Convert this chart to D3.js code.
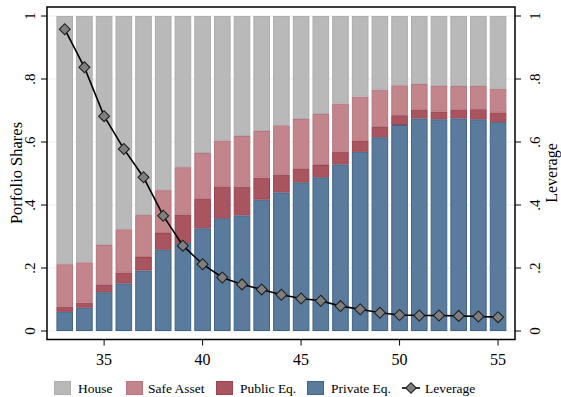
<!DOCTYPE html>
<html><head><meta charset="utf-8">
<script src="https://cdn.jsdelivr.net/npm/d3@7/dist/d3.min.js"></script>
<style>
body{margin:0;background:#fff;}
svg{display:block;font-family:"Liberation Serif","Times New Roman",serif;}
</style></head>
<body><svg id="c" width="561" height="397"></svg>
<script>
const ages = [33,34,35,36,37,38,39,40,41,42,43,44,45,46,47,48,49,50,51,52,53,54,55];
// cumulative tops
const privateEq = [0.061,0.074,0.123,0.151,0.192,0.258,0.280,0.326,0.358,0.367,0.417,0.440,0.472,0.488,0.529,0.569,0.615,0.654,0.675,0.672,0.675,0.672,0.663];
const publicTop = [0.077,0.090,0.148,0.186,0.235,0.311,0.370,0.421,0.459,0.458,0.487,0.497,0.514,0.527,0.569,0.605,0.648,0.685,0.702,0.697,0.702,0.704,0.694];
const safeTop   = [0.212,0.218,0.273,0.323,0.368,0.447,0.520,0.565,0.605,0.619,0.635,0.653,0.673,0.689,0.722,0.744,0.766,0.780,0.784,0.778,0.778,0.778,0.769];
const leverage  = [0.958,0.837,0.682,0.578,0.488,0.366,0.271,0.212,0.170,0.148,0.132,0.115,0.103,0.096,0.079,0.069,0.058,0.051,0.049,0.049,0.048,0.046,0.044];
const yTicks = [0,0.2,0.4,0.6,0.8,1];
const yTickLabels = ["0",".2",".4",".6",".8","1"];
const xTicks = [35,40,45,50,55];
const seriesNames = ["House","Safe Asset","Public Eq.","Private Eq.","Leverage"];

const colors = {
  house:{fill:"#b9b9b9",stroke:"#adadad"},
  safe:{fill:"#c2858b",stroke:"#b87480"},
  pub:{fill:"#a9555f",stroke:"#9a4450"},
  priv:{fill:"#5a7b9b",stroke:"#41648a"}
};

const svg = d3.select("#c");
const x = d3.scaleLinear().domain([32.1,55.86]).range([47,515]);
const y = d3.scaleLinear().domain([0,1]).range([331,16]);
const bw = 16.6;

// grid
svg.append("g").selectAll("line").data(yTicks).join("line")
  .attr("x1",x(32.1)).attr("x2",x(55.86))
  .attr("y1",d=>y(d)).attr("y2",d=>y(d))
  .attr("stroke","#e8eff0").attr("stroke-width",1);

// stacked bars
const rows = ages.map((a,i)=>({age:a,
  segs:[
    {lo:0,hi:privateEq[i],c:colors.priv},
    {lo:privateEq[i],hi:publicTop[i],c:colors.pub},
    {lo:publicTop[i],hi:safeTop[i],c:colors.safe},
    {lo:safeTop[i],hi:1,c:colors.house}
  ]}));
const bars = svg.append("g");
rows.forEach(r=>{
  bars.selectAll(null).data(r.segs).join("rect")
    .attr("x",x(r.age)-bw/2+0.5).attr("width",bw-1)
    .attr("y",d=>y(d.hi)+0.5).attr("height",d=>Math.max(0,y(d.lo)-y(d.hi)-1))
    .attr("fill",d=>d.c.fill).attr("stroke",d=>d.c.stroke).attr("stroke-width",1);
});

// leverage line
const line = d3.line().x((d,i)=>x(ages[i])).y(d=>y(d));
svg.append("path").datum(leverage).attr("d",line)
  .attr("fill","none").attr("stroke","#000").attr("stroke-width",1.6);
const diamond = d3.symbol().type(d3.symbolSquare).size(60);
svg.append("g").selectAll("path").data(leverage).join("path")
  .attr("d",diamond())
  .attr("transform",(d,i)=>`translate(${x(ages[i])},${y(d)}) rotate(45)`)
  .attr("fill","#7f7f7f").attr("stroke","#222").attr("stroke-width",1.1);

// frame
const frameTop = 7, frameBottom = 339.5;
svg.append("rect").attr("x",47).attr("y",frameTop).attr("width",515-47).attr("height",frameBottom-frameTop)
  .attr("fill","none").attr("stroke","#000").attr("stroke-width",1.5);

// left axis ticks
svg.append("g").selectAll("line").data(yTicks).join("line")
  .attr("x1",41).attr("x2",47).attr("y1",d=>y(d)).attr("y2",d=>y(d))
  .attr("stroke","#000").attr("stroke-width",1);
svg.append("g").selectAll("text").data(yTicks).join("text")
  .attr("transform",d=>`translate(35,${y(d)}) rotate(-90)`)
  .attr("text-anchor","middle").attr("font-size",15)
  .text((d,i)=>yTickLabels[i]);
// right axis ticks
svg.append("g").selectAll("line").data(yTicks).join("line")
  .attr("x1",515).attr("x2",521).attr("y1",d=>y(d)).attr("y2",d=>y(d))
  .attr("stroke","#000").attr("stroke-width",1);
svg.append("g").selectAll("text").data(yTicks).join("text")
  .attr("transform",d=>`translate(540,${y(d)}) rotate(-90)`)
  .attr("text-anchor","middle").attr("font-size",15)
  .text((d,i)=>yTickLabels[i]);
// bottom axis
svg.append("g").selectAll("line").data(xTicks).join("line")
  .attr("x1",d=>x(d)).attr("x2",d=>x(d)).attr("y1",frameBottom).attr("y2",frameBottom+6)
  .attr("stroke","#000").attr("stroke-width",1);
svg.append("g").selectAll("text").data(xTicks).join("text")
  .attr("x",d=>x(d)).attr("y",365).attr("text-anchor","middle").attr("font-size",16)
  .text(d=>d);

// axis titles
svg.append("text").attr("transform","translate(22,173) rotate(-90)")
  .attr("text-anchor","middle").attr("font-size",16.5).text("Porfolio Shares");
svg.append("text").attr("transform","translate(557,173) rotate(-90)")
  .attr("text-anchor","middle").attr("font-size",16).text("Leverage");

// legend
const lg = svg.append("g");
const legItems = [
  {x:54,c:colors.house,tx:78},
  {x:126,c:colors.safe,tx:148},
  {x:216,c:colors.pub,tx:240},
  {x:307,c:colors.priv,tx:331}
];
legItems.forEach((d,i)=>{
  lg.append("rect").attr("x",d.x+0.5).attr("y",381.5).attr("width",16).attr("height",13)
    .attr("fill",d.c.fill).attr("stroke",d.c.stroke);
  lg.append("text").attr("x",d.tx).attr("y",393).attr("font-size",13.5).text(seriesNames[i]);
});
lg.append("line").attr("x1",402).attr("x2",420).attr("y1",388).attr("y2",388)
  .attr("stroke","#000").attr("stroke-width",1.6);
lg.append("path").attr("d",d3.symbol().type(d3.symbolSquare).size(55)())
  .attr("transform","translate(411,388) rotate(45)")
  .attr("fill","#7f7f7f").attr("stroke","#222").attr("stroke-width",1.1);
lg.append("text").attr("x",425).attr("y",393).attr("font-size",13.5).text(seriesNames[4]);
</script></body></html>
